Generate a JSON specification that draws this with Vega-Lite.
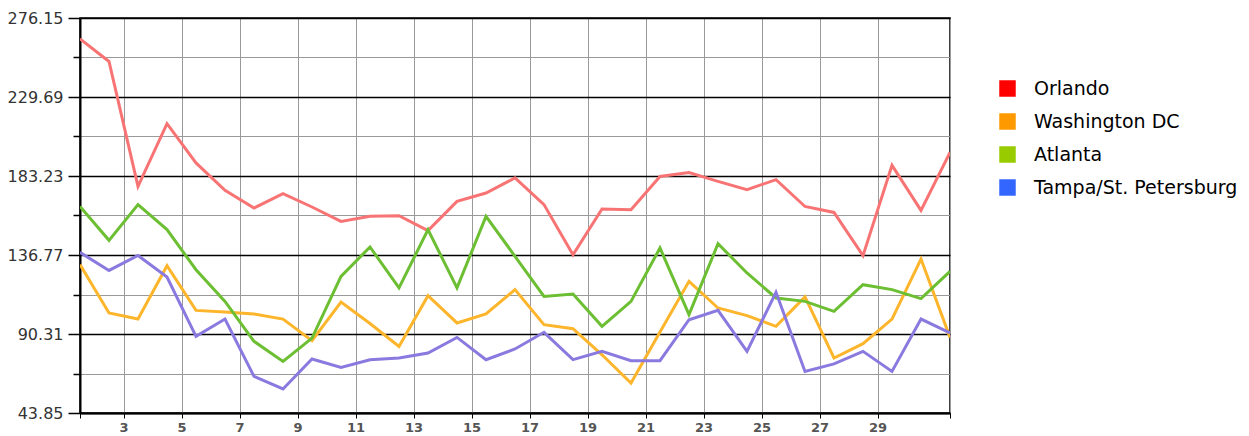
{
  "$schema": "https://vega.github.io/schema/vega-lite/v6.json",
  "width": 870,
  "height": 395,
  "autosize": {"type": "none"},
  "padding": {"left": 80, "top": 18, "right": 299, "bottom": 23},
  "background": "white",
  "config": {
    "font": "DejaVu Sans",
    "view": {"stroke": "black", "strokeWidth": 1.5, "fill": "#f2f4f7"}
  },
  "data": {
    "values": [
      {"day": 1, "city": "Orlando", "v": 263.9},
      {"day": 2, "city": "Orlando", "v": 250.6},
      {"day": 3, "city": "Orlando", "v": 177.1},
      {"day": 4, "city": "Orlando", "v": 214.0},
      {"day": 5, "city": "Orlando", "v": 190.9},
      {"day": 6, "city": "Orlando", "v": 174.8},
      {"day": 7, "city": "Orlando", "v": 164.4},
      {"day": 8, "city": "Orlando", "v": 172.8},
      {"day": 9, "city": "Orlando", "v": 165.0},
      {"day": 10, "city": "Orlando", "v": 156.5},
      {"day": 11, "city": "Orlando", "v": 159.5},
      {"day": 12, "city": "Orlando", "v": 159.9},
      {"day": 13, "city": "Orlando", "v": 151.1},
      {"day": 14, "city": "Orlando", "v": 168.3},
      {"day": 15, "city": "Orlando", "v": 173.2},
      {"day": 16, "city": "Orlando", "v": 182.1},
      {"day": 17, "city": "Orlando", "v": 166.4},
      {"day": 18, "city": "Orlando", "v": 136.9},
      {"day": 19, "city": "Orlando", "v": 163.8},
      {"day": 20, "city": "Orlando", "v": 163.4},
      {"day": 21, "city": "Orlando", "v": 183.0},
      {"day": 22, "city": "Orlando", "v": 185.3},
      {"day": 23, "city": "Orlando", "v": 180.1},
      {"day": 24, "city": "Orlando", "v": 175.2},
      {"day": 25, "city": "Orlando", "v": 181.1},
      {"day": 26, "city": "Orlando", "v": 165.3},
      {"day": 27, "city": "Orlando", "v": 161.8},
      {"day": 28, "city": "Orlando", "v": 136.4},
      {"day": 29, "city": "Orlando", "v": 189.5},
      {"day": 30, "city": "Orlando", "v": 163.0},
      {"day": 31, "city": "Orlando", "v": 197.1},
      {"day": 1, "city": "Washington DC", "v": 131.1},
      {"day": 2, "city": "Washington DC", "v": 102.7},
      {"day": 3, "city": "Washington DC", "v": 99.1},
      {"day": 4, "city": "Washington DC", "v": 130.5},
      {"day": 5, "city": "Washington DC", "v": 104.2},
      {"day": 6, "city": "Washington DC", "v": 103.3},
      {"day": 7, "city": "Washington DC", "v": 102.1},
      {"day": 8, "city": "Washington DC", "v": 99.1},
      {"day": 9, "city": "Washington DC", "v": 86.4},
      {"day": 10, "city": "Washington DC", "v": 109.1},
      {"day": 11, "city": "Washington DC", "v": 96.5},
      {"day": 12, "city": "Washington DC", "v": 83.0},
      {"day": 13, "city": "Washington DC", "v": 112.8},
      {"day": 14, "city": "Washington DC", "v": 96.8},
      {"day": 15, "city": "Washington DC", "v": 102.1},
      {"day": 16, "city": "Washington DC", "v": 116.4},
      {"day": 17, "city": "Washington DC", "v": 95.8},
      {"day": 18, "city": "Washington DC", "v": 93.4},
      {"day": 19, "city": "Washington DC", "v": 78.1},
      {"day": 20, "city": "Washington DC", "v": 61.5},
      {"day": 21, "city": "Washington DC", "v": 91.5},
      {"day": 22, "city": "Washington DC", "v": 121.3},
      {"day": 23, "city": "Washington DC", "v": 105.6},
      {"day": 24, "city": "Washington DC", "v": 101.1},
      {"day": 25, "city": "Washington DC", "v": 94.8},
      {"day": 26, "city": "Washington DC", "v": 112.1},
      {"day": 27, "city": "Washington DC", "v": 76.2},
      {"day": 28, "city": "Washington DC", "v": 84.6},
      {"day": 29, "city": "Washington DC", "v": 99.1},
      {"day": 30, "city": "Washington DC", "v": 134.4},
      {"day": 31, "city": "Washington DC", "v": 88.3},
      {"day": 1, "city": "Atlanta", "v": 165.3},
      {"day": 2, "city": "Atlanta", "v": 145.4},
      {"day": 3, "city": "Atlanta", "v": 166.4},
      {"day": 4, "city": "Atlanta", "v": 151.7},
      {"day": 5, "city": "Atlanta", "v": 128.1},
      {"day": 6, "city": "Atlanta", "v": 109.5},
      {"day": 7, "city": "Atlanta", "v": 86.0},
      {"day": 8, "city": "Atlanta", "v": 74.2},
      {"day": 9, "city": "Atlanta", "v": 87.9},
      {"day": 10, "city": "Atlanta", "v": 124.2},
      {"day": 11, "city": "Atlanta", "v": 141.5},
      {"day": 12, "city": "Atlanta", "v": 117.4},
      {"day": 13, "city": "Atlanta", "v": 151.7},
      {"day": 14, "city": "Atlanta", "v": 117.4},
      {"day": 15, "city": "Atlanta", "v": 159.5},
      {"day": 16, "city": "Atlanta", "v": 136.0},
      {"day": 17, "city": "Atlanta", "v": 112.4},
      {"day": 18, "city": "Atlanta", "v": 113.8},
      {"day": 19, "city": "Atlanta", "v": 94.8},
      {"day": 20, "city": "Atlanta", "v": 109.5},
      {"day": 21, "city": "Atlanta", "v": 140.9},
      {"day": 22, "city": "Atlanta", "v": 101.7},
      {"day": 23, "city": "Atlanta", "v": 143.4},
      {"day": 24, "city": "Atlanta", "v": 126.2},
      {"day": 25, "city": "Atlanta", "v": 111.5},
      {"day": 26, "city": "Atlanta", "v": 109.5},
      {"day": 27, "city": "Atlanta", "v": 103.6},
      {"day": 28, "city": "Atlanta", "v": 119.3},
      {"day": 29, "city": "Atlanta", "v": 116.4},
      {"day": 30, "city": "Atlanta", "v": 111.1},
      {"day": 31, "city": "Atlanta", "v": 127.1},
      {"day": 1, "city": "Tampa/St. Petersburg", "v": 138.3},
      {"day": 2, "city": "Tampa/St. Petersburg", "v": 127.7},
      {"day": 3, "city": "Tampa/St. Petersburg", "v": 136.5},
      {"day": 4, "city": "Tampa/St. Petersburg", "v": 123.8},
      {"day": 5, "city": "Tampa/St. Petersburg", "v": 88.9},
      {"day": 6, "city": "Tampa/St. Petersburg", "v": 99.1},
      {"day": 7, "city": "Tampa/St. Petersburg", "v": 65.4},
      {"day": 8, "city": "Tampa/St. Petersburg", "v": 58.0},
      {"day": 9, "city": "Tampa/St. Petersburg", "v": 75.6},
      {"day": 10, "city": "Tampa/St. Petersburg", "v": 70.7},
      {"day": 11, "city": "Tampa/St. Petersburg", "v": 75.2},
      {"day": 12, "city": "Tampa/St. Petersburg", "v": 76.2},
      {"day": 13, "city": "Tampa/St. Petersburg", "v": 79.1},
      {"day": 14, "city": "Tampa/St. Petersburg", "v": 88.3},
      {"day": 15, "city": "Tampa/St. Petersburg", "v": 75.2},
      {"day": 16, "city": "Tampa/St. Petersburg", "v": 81.5},
      {"day": 17, "city": "Tampa/St. Petersburg", "v": 91.3},
      {"day": 18, "city": "Tampa/St. Petersburg", "v": 75.2},
      {"day": 19, "city": "Tampa/St. Petersburg", "v": 80.1},
      {"day": 20, "city": "Tampa/St. Petersburg", "v": 74.6},
      {"day": 21, "city": "Tampa/St. Petersburg", "v": 74.6},
      {"day": 22, "city": "Tampa/St. Petersburg", "v": 98.7},
      {"day": 23, "city": "Tampa/St. Petersburg", "v": 104.2},
      {"day": 24, "city": "Tampa/St. Petersburg", "v": 80.1},
      {"day": 25, "city": "Tampa/St. Petersburg", "v": 114.8},
      {"day": 26, "city": "Tampa/St. Petersburg", "v": 68.3},
      {"day": 27, "city": "Tampa/St. Petersburg", "v": 72.7},
      {"day": 28, "city": "Tampa/St. Petersburg", "v": 80.1},
      {"day": 29, "city": "Tampa/St. Petersburg", "v": 68.3},
      {"day": 30, "city": "Tampa/St. Petersburg", "v": 99.1},
      {"day": 31, "city": "Tampa/St. Petersburg", "v": 90.9}
    ]
  },
  "layer": [
    {
      "mark": {"type": "line", "strokeWidth": 3, "clip": true},
      "encoding": {
        "x": {
          "field": "day",
          "type": "quantitative",
          "scale": {"domain": [1, 31], "nice": false, "zero": false},
          "axis": {
            "title": null,
            "values": [1, 2.5, 4.5, 6.5, 8.5, 10.5, 12.5, 14.5, 16.5, 18.5, 20.5, 22.5, 24.5, 26.5, 28.5, 31],
            "labelExpr": "datum.value == 1 || datum.value == 31 ? '' : format(datum.value + 0.5, 'd')",
            "gridColor": "#9a9a9a",
            "gridWidth": 1,
            "tickSize": 5,
            "tickColor": "black",
            "domainColor": "black",
            "domainWidth": 2,
            "labelFontSize": 13,
            "labelFontWeight": "bold",
            "labelColor": "#555555",
            "labelPadding": 3,
            "labelFlush": false
          }
        },
        "y": {
          "field": "v",
          "type": "quantitative",
          "scale": {"domain": [43.85, 276.15], "nice": false, "zero": false},
          "axis": {
            "title": null,
            "values": [43.85, 67.08, 90.31, 113.54, 136.77, 160, 183.23, 206.46, 229.69, 252.92, 276.15],
            "labelExpr": "abs((datum.value - 43.85) / 46.46 - round((datum.value - 43.85) / 46.46)) < 0.01 ? format(datum.value, '.2f') : ''",
            "gridColor": {"condition": {"test": "abs((datum.value - 43.85) / 46.46 - round((datum.value - 43.85) / 46.46)) < 0.01", "value": "black"}, "value": "#9a9a9a"},
            "gridWidth": {"condition": {"test": "abs((datum.value - 43.85) / 46.46 - round((datum.value - 43.85) / 46.46)) < 0.01", "value": 1.6}, "value": 1},
            "tickSize": {"condition": {"test": "abs((datum.value - 43.85) / 46.46 - round((datum.value - 43.85) / 46.46)) < 0.01", "value": 12}, "value": 7},
            "tickColor": "black",
            "tickWidth": 1.5,
            "domainColor": "black",
            "domainWidth": 2,
            "labelFontSize": 16,
            "labelColor": "#333333",
            "labelPadding": 5,
            "labelFlush": false
          }
        },
        "color": {
          "field": "city",
          "type": "nominal",
          "scale": {"range": ["#6cbf32", "#f87474", "#8a7adf", "#fdb52c"]},
          "legend": null
        }
      }
    },
    {
      "transform": [{"filter": "datum.day < 0"}],
      "mark": {"type": "square", "filled": true, "opacity": 1},
      "encoding": {
        "fill": {
          "field": "city",
          "type": "nominal",
          "scale": {
            "domain": ["Orlando", "Washington DC", "Atlanta", "Tampa/St. Petersburg"],
            "range": ["#ff0000", "#ff9900", "#99cc00", "#3366ff"]
          },
          "legend": {
            "orient": "none",
            "legendX": 918,
            "legendY": 61,
            "title": null,
            "symbolType": "square",
            "symbolSize": 272,
            "symbolStrokeWidth": 0,
            "symbolOpacity": 1,
            "labelFont": "DejaVu Sans",
            "labelFontSize": 19,
            "labelColor": "black",
            "labelOffset": 17,
            "labelLimit": 0,
            "rowPadding": 13
          }
        }
      }
    }
  ]
}
